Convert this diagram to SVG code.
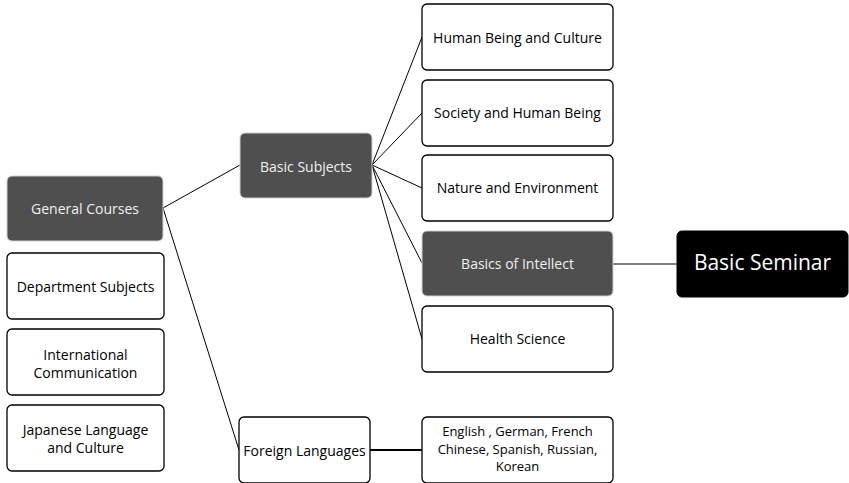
<svg xmlns="http://www.w3.org/2000/svg" width="849" height="483" viewBox="0 0 849 483">
<style>
.box rect{fill:#fff;stroke:#000;stroke-width:1.3}
.dark rect{fill:#4f4f4f;stroke:#d0d0d0;stroke-width:1}
.black rect{fill:#000;stroke:#000;stroke-width:1}
text{font-family:"Open Sans","Liberation Sans",sans-serif;font-size:14px;text-anchor:middle;dominant-baseline:central;fill:#000}
.dark text{fill:#f0f0f0}
.black text{fill:#fff;font-size:21px}
.small text{font-size:13px}
.conn line{stroke:#000;stroke-width:1}
</style>
<g class="conn" id="connectors">
<line x1="163" y1="208" x2="240" y2="165"/>
<line x1="163" y1="208" x2="239" y2="450"/>
<line x1="372" y1="165" x2="422" y2="37"/>
<line x1="372" y1="165" x2="422" y2="113"/>
<line x1="372" y1="165" x2="422" y2="188"/>
<line x1="372" y1="165" x2="422" y2="263"/>
<line x1="372" y1="165" x2="422" y2="339"/>
<line x1="613" y1="264" x2="677" y2="264"/>
<line x1="370" y1="450" x2="422" y2="450" style="stroke-width:2"/>
</g>
<g id="general" class="dark"><rect x="7" y="176" width="156" height="65" rx="5"/><text x="85" y="208.5">General Courses</text></g>
<g id="dept" class="box"><rect x="7" y="253" width="157" height="66" rx="5"/><text x="85.5" y="286">Department Subjects</text></g>
<g id="intl" class="box"><rect x="7" y="329" width="157" height="66" rx="5"/><text x="85.5" y="354">International</text><text x="85.5" y="372">Communication</text></g>
<g id="japanese" class="box"><rect x="7" y="405" width="157" height="66" rx="5"/><text x="85.5" y="429">Japanese Language</text><text x="85.5" y="447">and Culture</text></g>
<g id="basic" class="dark"><rect x="240" y="133" width="132" height="65" rx="5"/><text x="306" y="166">Basic Subjects</text></g>
<g id="foreign" class="box"><rect x="239" y="417" width="131" height="66" rx="5"/><text x="304.5" y="450.5">Foreign Languages</text></g>
<g id="human" class="box"><rect x="422" y="4" width="191" height="66" rx="5"/><text x="517.5" y="37">Human Being and Culture</text></g>
<g id="society" class="box"><rect x="422" y="80" width="191" height="66" rx="5"/><text x="517.5" y="112">Society and Human Being</text></g>
<g id="nature" class="box"><rect x="422" y="155" width="191" height="66" rx="5"/><text x="517.5" y="187.5">Nature and Environment</text></g>
<g id="intellect" class="dark"><rect x="422" y="231" width="191" height="65" rx="5"/><text x="517.5" y="263">Basics of Intellect</text></g>
<g id="health" class="box"><rect x="422" y="306" width="191" height="66" rx="5"/><text x="517.5" y="338.5">Health Science</text></g>
<g id="seminar" class="black"><rect x="677" y="231" width="171" height="66" rx="5"/><text x="762.5" y="262">Basic Seminar</text></g>
<g id="languages" class="box small"><rect x="422" y="417" width="191" height="66" rx="5"/><text x="517.5" y="431">English , German, French</text><text x="517.5" y="448.5">Chinese, Spanish, Russian,</text><text x="517.5" y="466">Korean</text></g>
</svg>
